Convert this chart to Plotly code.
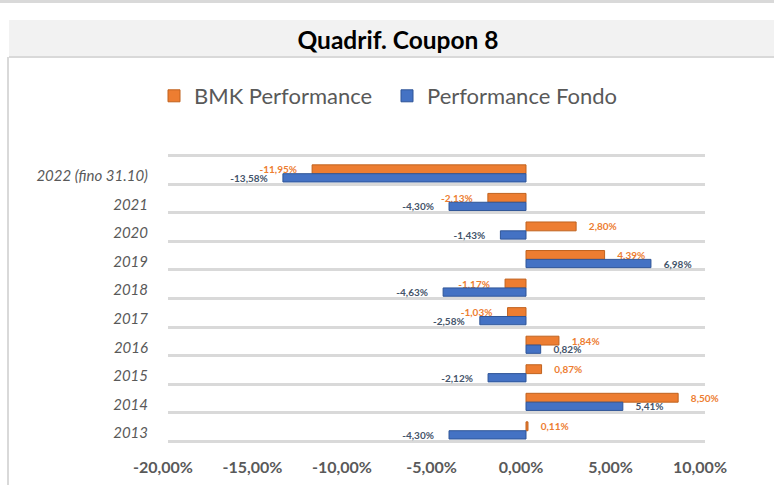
import plotly.graph_objects as go

categories = ["2013", "2014", "2015", "2016", "2017", "2018", "2019", "2020", "2021", "2022 (fino 31.10)"]
bmk_performance = [0.11, 8.50, 0.87, 1.84, -1.03, -1.17, 4.39, 2.80, -2.13, -11.95]
fondo_performance = [-4.30, 5.41, -2.12, 0.82, -2.58, -4.63, 6.98, -1.43, -4.30, -13.58]
x_tick_values = [-20, -15, -10, -5, 0, 5, 10]

FONT = "Lato"
W, H = 774, 485
L, R, T, B = 168, 69, 154, 42
PW, PH = W - L - R, H - T - B


def pct(v):
    return f"{v:.2f}%".replace(".", ",")


def fmt(v):
    s = pct(v)
    return ("    " + s) if v >= 0 else (s + "     ")


def px_x(px):
    return (px - L) / PW


def px_y(py):
    return (H - B - py) / PH


fig = go.Figure()
fig.add_trace(go.Bar(
    name="BMK Performance", y=categories, x=bmk_performance, orientation="h",
    marker=dict(color="#ed7d31", line=dict(color="#c0631f", width=1)),
    text=[fmt(v) for v in bmk_performance], textposition="outside",
    textfont=dict(family=FONT, size=10, color="#ed7d31", weight="bold"),
    constraintext="none", cliponaxis=False, offset=-0.13, width=0.31,
    legendrank=1,
))
fig.add_trace(go.Bar(
    name="Performance Fondo", y=categories, x=fondo_performance, orientation="h",
    marker=dict(color="#4472c4", line=dict(color="#2f5597", width=1)),
    text=[fmt(v) for v in fondo_performance], textposition="outside",
    textfont=dict(family=FONT, size=10, color="#44546a", weight="bold"),
    constraintext="none", cliponaxis=False, offset=-0.42, width=0.29,
    legendrank=2,
))

shapes = [
    dict(type="rect", xref="paper", yref="paper", x0=px_x(9), x1=px_x(780), y0=px_y(57), y1=px_y(20),
         fillcolor="#f2f2f2", line=dict(width=0), layer="below"),
    dict(type="line", xref="paper", yref="paper", x0=px_x(9), x1=px_x(780), y0=px_y(57), y1=px_y(57),
         line=dict(color="#d9d9d9", width=2)),
    dict(type="line", xref="paper", yref="paper", x0=px_x(8), x1=px_x(8), y0=px_y(57), y1=px_y(490),
         line=dict(color="#d9d9d9", width=2)),
    dict(type="line", xref="paper", yref="paper", x0=px_x(0), x1=px_x(780), y0=px_y(1.5), y1=px_y(1.5),
         line=dict(color="#d9d9d9", width=3)),
]

fig.update_layout(
    width=W, height=H, margin=dict(l=L, r=R, t=T, b=B, autoexpand=False),
    paper_bgcolor="white", plot_bgcolor="white",
    barmode="overlay", separators=",.",
    shapes=shapes,
    title=dict(text="<b>Quadrif. Coupon 8</b>", xref="container", yref="container",
               x=398 / W, y=1 - 40 / H, xanchor="center", yanchor="middle",
               font=dict(family=FONT, size=24.5, color="#000000")),
    legend=dict(orientation="h", xref="container", yref="container",
                x=387 / W, y=1 - 96 / H, xanchor="center", yanchor="middle",
                font=dict(family=FONT, size=22, color="#595959"),
                entrywidth=188, bgcolor="rgba(0,0,0,0)"),
    xaxis=dict(range=[-20, 10], tickvals=x_tick_values, ticktext=[pct(v) for v in x_tick_values],
               showgrid=False, zeroline=False, showline=False,
               tickfont=dict(family=FONT, size=16, color="#595959", weight="bold"),
               ticklabelstandoff=13, ticklabelshift=-5),
    yaxis=dict(type="category", categoryorder="array", categoryarray=categories,
               range=[-0.56, 9.56],
               tickson="boundaries", showgrid=True, gridcolor="#d9d9d9", gridwidth=3,
               zeroline=False, showline=False, ticks="",
               tickfont=dict(family=FONT, size=15, color="#595959", style="italic"),
               ticklabelstandoff=19, ticklabelshift=6),
)

fig.write_html("out.html", post_script="document.body.style.margin='0';",
               config={"displayModeBar": False})
